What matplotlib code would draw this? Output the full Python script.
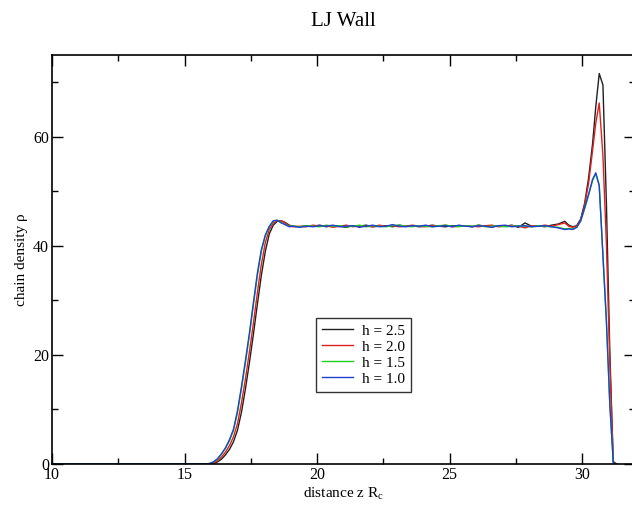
import matplotlib
matplotlib.use('Agg')
import matplotlib.pyplot as plt
from matplotlib.ticker import MultipleLocator

plt.rcParams['font.family'] = 'Liberation Serif'
plt.rcParams['mathtext.fontset'] = 'custom'
plt.rcParams['mathtext.rm'] = 'Liberation Serif'
plt.rcParams['mathtext.it'] = 'Liberation Serif:italic'

# bin positions (z) - left interface, bulk, wall region
z_left = [10.0, 15.5, 15.8, 15.95, 16.1, 16.25, 16.4, 16.55, 16.7, 16.85, 17.0,
          17.15, 17.3, 17.45, 17.6, 17.75, 17.9, 18.05, 18.2, 18.35, 18.5,
          18.65, 18.8, 18.95, 19.1]
z_bulk = [19.35, 19.6, 19.85, 20.1, 20.35, 20.6, 20.85, 21.1, 21.35, 21.6,
          21.85, 22.1, 22.35, 22.6, 22.85, 23.1, 23.35, 23.6, 23.85, 24.1,
          24.35, 24.6, 24.85, 25.1, 25.35, 25.6, 25.85, 26.1, 26.35, 26.6,
          26.85, 27.1, 27.35, 27.6, 27.85, 28.1, 28.35, 28.6, 28.85, 29.1, 29.35]
z_wall = [29.5, 29.65, 29.8, 29.95, 30.1, 30.25, 30.4, 30.52, 30.65, 30.79,
          30.92, 31.05, 31.18, 31.3]
z = z_left + z_bulk + z_wall

# h = 2.5
rho_25 = ([0, 0, 0, 0, 0.1, 0.4, 0.9, 1.7, 2.7, 4.1, 6.2, 9.5, 13.8, 18.6, 23.8,
           29.3, 34.6, 39.0, 42.2, 43.8, 44.5, 44.6, 44.3, 43.8, 43.6]
          + [43.5, 43.7, 43.6, 43.8, 43.5, 43.7, 43.6, 43.4, 43.7, 43.6, 43.8,
             43.5, 43.6, 43.7, 43.5, 43.8, 43.6, 43.7, 43.5, 43.6, 43.8, 43.6,
             43.5, 43.7, 43.6, 43.7, 43.5, 43.8, 43.6, 43.5, 43.7, 43.6, 43.8,
             43.4, 44.2, 43.6, 43.7, 43.5, 43.8, 44.0, 44.5]
          + [43.8, 43.5, 43.7, 44.9, 47.8, 52.5, 58.8, 65.5, 71.6, 69.5, 48.0,
             20.5, 0.3, 0])
# h = 2.0
rho_20 = ([0, 0, 0, 0, 0.2, 0.6, 1.3, 2.2, 3.4, 5.0, 7.4, 11.2, 15.6, 20.6, 25.8,
           31.4, 36.6, 40.6, 43.0, 44.2, 44.6, 44.6, 44.2, 43.7, 43.5]
          + [43.6, 43.5, 43.8, 43.6, 43.7, 43.4, 43.6, 43.8, 43.5, 43.7, 43.6,
             43.5, 43.8, 43.6, 43.7, 43.5, 43.6, 43.8, 43.6, 43.5, 43.7, 43.6,
             43.8, 43.5, 43.6, 43.7, 43.6, 43.5, 43.7, 43.8, 43.5, 43.6, 43.7,
             43.6, 43.3, 43.7, 43.6, 43.8, 43.6, 43.9, 44.2]
          + [43.6, 43.4, 43.6, 44.8, 47.5, 51.5, 57.5, 62.5, 66.2, 56.5, 40.5,
             18.5, 0.5, 0])
# h = 1.5
rho_15 = ([0, 0, 0, 0.1, 0.4, 0.9, 1.8, 2.9, 4.3, 6.2, 9.4, 13.8, 18.6, 23.6, 29.1,
           34.5, 39.0, 41.8, 43.5, 44.5, 44.7, 44.3, 43.9, 43.6, 43.6]
          + [43.5, 43.7, 43.6, 43.5, 43.8, 43.6, 43.7, 43.5, 43.6, 43.8, 43.5,
             43.7, 43.6, 43.5, 43.7, 43.8, 43.6, 43.5, 43.7, 43.6, 43.5, 43.7,
             43.8, 43.6, 43.5, 43.7, 43.6, 43.8, 43.5, 43.6, 43.7, 43.5, 43.6,
             43.7, 43.6, 43.5, 43.7, 43.6, 43.5, 43.4, 43.1]
          + [43.2, 43.1, 43.4, 44.5, 46.8, 49.3, 52.0, 53.2, 51.2, 38.4, 26.4,
             11.0, 0.4, 0])
# h = 1.0
rho_10 = ([0, 0, 0, 0.1, 0.4, 1.0, 1.9, 3.0, 4.5, 6.4, 9.8, 14.2, 19.0, 24.0, 29.6,
           35.0, 39.3, 42.0, 43.6, 44.6, 44.7, 44.2, 43.9, 43.5, 43.6]
          + [43.4, 43.6, 43.5, 43.7, 43.6, 43.8, 43.5, 43.6, 43.7, 43.4, 43.6,
             43.8, 43.5, 43.6, 43.9, 43.6, 43.5, 43.7, 43.6, 43.8, 43.5, 43.6,
             43.7, 43.5, 43.8, 43.6, 43.5, 43.7, 43.6, 43.4, 43.7, 43.8, 43.5,
             43.6, 43.7, 43.5, 43.6, 43.7, 43.5, 43.3, 43.0]
          + [43.1, 43.0, 43.4, 44.6, 47.0, 49.5, 52.2, 53.4, 51.0, 38.2, 26.2,
             10.9, 0.3, 0])

labels = ['h = 2.5', 'h = 2.0', 'h = 1.5', 'h = 1.0']
colors = ['#202020', '#e02020', '#20d020', '#2040d0']

fig = plt.figure(figsize=(6.32, 5.08), dpi=100)
ax = fig.add_axes([52 / 632, 44 / 508, 583 / 632, 409 / 508])

for rho, lab, col in zip([rho_25, rho_20, rho_15, rho_10], labels, colors):
    ax.plot(z, rho, '-', color=col, lw=1.0, label=lab)

ax.set_xlim(10, 32)
ax.set_ylim(0, 75)
ax.xaxis.set_major_locator(MultipleLocator(5))
ax.xaxis.set_minor_locator(MultipleLocator(2.5))
ax.yaxis.set_major_locator(MultipleLocator(20))
ax.yaxis.set_minor_locator(MultipleLocator(10))
ax.tick_params(which='both', direction='in', top=True, right=True, width=1,
               labelsize=11.5)
ax.tick_params(which='major', length=8, pad=2)
ax.tick_params(which='minor', length=4)
for sp in ax.spines.values():
    sp.set_linewidth(1.2)

ax.set_xlabel(r'distance z R$_\mathrm{c}$', fontsize=11, labelpad=2)
ax.set_ylabel('chain density ρ', fontsize=11, labelpad=4)
fig.text(343 / 632, 1 - 21 / 508, 'LJ Wall', ha='center', va='center', fontsize=15)

leg = ax.legend(loc='upper left', bbox_to_anchor=(316 / 632, 1 - 318 / 508),
                bbox_transform=fig.transFigure, fontsize=11, frameon=True,
                fancybox=False, handlelength=2.0, handletextpad=0.6,
                labelspacing=0.15, borderpad=0.4, borderaxespad=0)
leg.get_frame().set_edgecolor('black')
leg.get_frame().set_linewidth(1.0)

fig.savefig('out.png', dpi=100)
